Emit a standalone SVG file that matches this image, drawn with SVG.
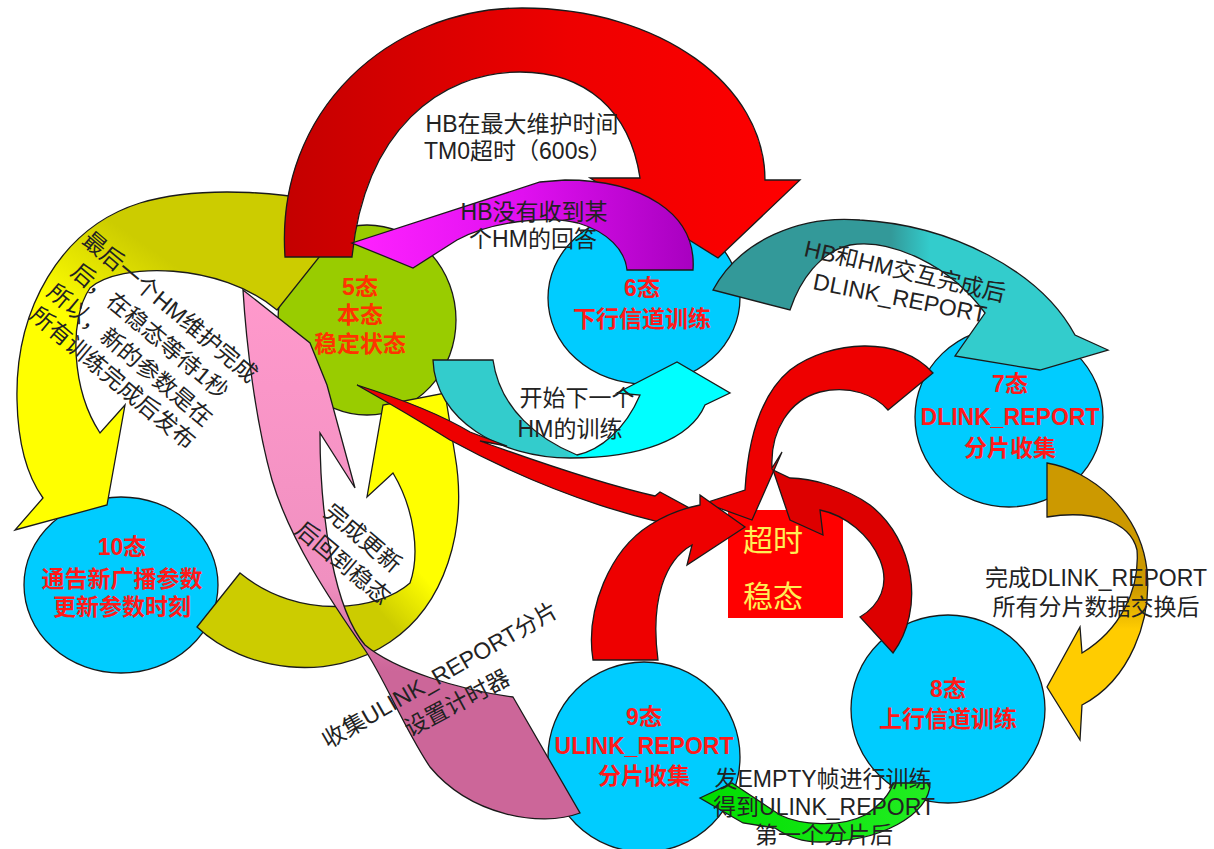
<svg xmlns="http://www.w3.org/2000/svg" width="1214" height="849" viewBox="0 0 1214 849">
  <defs>
    <linearGradient id="gRed" x1="0" y1="0" x2="1" y2="0">
      <stop offset="0" stop-color="#c40000"/>
      <stop offset="0.55" stop-color="#ee0000"/>
      <stop offset="1" stop-color="#ff0000"/>
    </linearGradient>
    <linearGradient id="gMag" x1="0" y1="0" x2="1" y2="0">
      <stop offset="0" stop-color="#ff22ff"/>
      <stop offset="0.5" stop-color="#e010f0"/>
      <stop offset="1" stop-color="#a800c0"/>
    </linearGradient>
    <linearGradient id="gOliveTop" x1="0.8" y1="0" x2="0.1" y2="1">
      <stop offset="0.3" stop-color="#cccc00"/>
      <stop offset="0.55" stop-color="#ffff00"/>
      <stop offset="1" stop-color="#ffff00"/>
    </linearGradient>
    <linearGradient id="gPink" x1="0" y1="0" x2="0" y2="1">
      <stop offset="0" stop-color="#ff99cc"/>
      <stop offset="0.55" stop-color="#f090c0"/>
      <stop offset="0.72" stop-color="#cc6699"/>
      <stop offset="1" stop-color="#cc6699"/>
    </linearGradient>
    <linearGradient id="gYelBot" x1="0" y1="1" x2="1" y2="0">
      <stop offset="0.45" stop-color="#cccc00"/>
      <stop offset="0.6" stop-color="#ffff00"/>
      <stop offset="1" stop-color="#ffff00"/>
    </linearGradient>
    <linearGradient id="gCyan" x1="0" y1="0" x2="1" y2="0">
      <stop offset="0.45" stop-color="#33cccc"/>
      <stop offset="0.5" stop-color="#00ffff"/>
      <stop offset="1" stop-color="#00ffff"/>
    </linearGradient>
    <linearGradient id="gTeal" x1="0" y1="0" x2="1" y2="0">
      <stop offset="0.45" stop-color="#339999"/>
      <stop offset="0.55" stop-color="#33cccc"/>
      <stop offset="1" stop-color="#33cccc"/>
    </linearGradient>
    <linearGradient id="gGold" x1="0" y1="0" x2="0" y2="1">
      <stop offset="0.45" stop-color="#cc9900"/>
      <stop offset="0.6" stop-color="#ffcc00"/>
      <stop offset="1" stop-color="#ffcc00"/>
    </linearGradient>
    <linearGradient id="gGreen" x1="0" y1="0" x2="1" y2="0">
      <stop offset="0" stop-color="#00dd00"/>
      <stop offset="1" stop-color="#22ee22"/>
    </linearGradient>
  </defs>
  <style>
    .node { fill: #00ccff; stroke: #1a1a1a; stroke-width: 1.3; }
    .arrow { stroke: #1a1a1a; stroke-width: 1.3; stroke-linejoin: miter; }
    .lbl { font-family: 'Liberation Sans', 'Noto Sans CJK SC', sans-serif; font-size: 23px; font-weight: bold; fill: #ff1a1a; text-anchor: middle; }
    .note { font-family: 'Liberation Sans', 'Noto Sans CJK SC', sans-serif; font-size: 23px; fill: #222222; text-anchor: middle; }
    .box { font-family: 'Liberation Sans', 'Noto Sans CJK SC', sans-serif; font-size: 30px; fill: #ffee55; text-anchor: middle; }
  </style>

  <rect width="1214" height="849" fill="#ffffff"/>

  <!-- state circles -->
  <g id="state5"><ellipse cx="367" cy="320" rx="89" ry="95" fill="#99cc00" stroke="#1a1a1a" stroke-width="1.3"/></g>
  <g id="state6"><ellipse class="node" cx="644" cy="298" rx="96" ry="86"/></g>
  <g id="state7"><ellipse class="node" cx="1009" cy="417" rx="94" ry="90"/></g>
  <g id="state8"><ellipse class="node" cx="948" cy="709" rx="97" ry="94"/></g>
  <g id="state9"><ellipse class="node" cx="644" cy="757" rx="96" ry="95"/></g>
  <g id="state10"><ellipse class="node" cx="121" cy="585" rx="97" ry="88"/></g>

  <!-- timeout box -->
  <g id="timeout"><rect x="728" y="510" width="115" height="108" fill="#ff0000"/></g>

  <g id="connectors">
    <!-- 5 -> 10 -->
    <path class="arrow" fill="url(#gOliveTop)" d="M 355 212 C 300 190, 200 185, 140 203 C 60 228, 15 310, 17 400 C 18 450, 30 480, 43 498 L 15 530 L 107 505 L 125 405 L 100 433 C 72 390, 68 320, 90 288 C 120 262, 220 262, 277 310 Z"/>
    <!-- 5 -> 6 timeout -->
    <path class="arrow" fill="url(#gRed)" d="M 285 257 C 275 110, 390 8, 522 8 C 660 8, 765 85, 765 180 L 800 180 L 718 258 L 590 178 L 640 178 C 630 110, 585 72, 520 72 C 440 72, 365 130, 352 257 Z"/>
    <!-- 6 -> 5 -->
    <path class="arrow" fill="url(#gMag)" d="M 693 270 C 697 212, 640 180, 565 180 L 540 182 L 352 243 L 413 268 L 457 240 C 490 222, 545 215, 578 223 C 608 232, 625 250, 627 270 Z"/>
    <!-- 10 -> 5 -->
    <path class="arrow" fill="url(#gYelBot)" d="M 197 627 C 245 672, 330 683, 390 642 C 445 605, 468 530, 455 455 L 445 393 L 383 405 L 367 497 L 393 473 C 415 510, 420 555, 410 583 C 380 610, 300 622, 240 573 Z"/>
    <!-- 9 -> 5 -->
    <path class="arrow" fill="url(#gPink)" d="M 243 290 L 310 343 L 327 385 L 355 488 L 320 433 C 320 520, 335 610, 365 645 C 395 670, 460 690, 513 697 L 580 813 C 540 828, 470 815, 430 767 C 405 730, 385 680, 365 650 C 330 600, 290 540, 272 480 C 255 420, 246 340, 243 290 Z"/>
    <!-- 5 -> 6 -->
    <path class="arrow" fill="url(#gCyan)" d="M 433 360 C 435 420, 500 458, 570 458 C 640 458, 690 440, 705 405 L 730 393 L 677 362 L 617 393 L 640 395 C 625 430, 600 450, 577 455 C 540 440, 500 410, 493 360 Z"/>
    <!-- 6 -> 7 -->
    <path class="arrow" fill="url(#gTeal)" d="M 713 290 C 740 240, 800 215, 860 220 C 950 225, 1040 270, 1075 335 L 1108 350 L 1040 370 L 955 356 L 985 313 C 950 265, 890 238, 850 245 C 820 252, 800 280, 790 310 Z"/>
    <!-- 7 -> 8 -->
    <path class="arrow" fill="url(#gGold)" d="M 1047 463 C 1090 470, 1140 510, 1147 570 C 1152 620, 1130 680, 1082 705 L 1080 740 L 1047 687 L 1080 627 L 1082 653 C 1120 630, 1140 590, 1137 550 C 1130 520, 1090 510, 1047 517 Z"/>
    <!-- 8 -> 9 -->
    <path class="arrow" fill="url(#gGreen)" d="M 930 783 C 930 815, 880 842, 820 842 C 800 842, 785 835, 775 828 L 743 823 L 700 798 L 732 783 L 780 815 C 800 825, 840 828, 865 815 C 880 805, 890 795, 893 783 Z"/>
    <!-- timeout arrows into the box -->
    <path class="arrow" fill="#ee0000" d="M 357 385 C 420 405, 450 420, 470 432 L 507 446 L 480 441 C 560 470, 620 488, 655 496 L 660 492 L 730 530 L 718 535 C 650 522, 560 500, 450 440 C 410 415, 380 398, 357 385 Z"/>
    <path class="arrow" fill="#ee0000" d="M 933 373 C 900 335, 830 340, 790 370 C 760 395, 748 440, 745 490 L 705 503 L 752 520 L 782 452 L 772 468 C 770 430, 790 400, 820 392 C 850 385, 875 395, 888 410 Z"/>
    <path class="arrow" fill="#dd0000" d="M 893 653 C 925 610, 915 540, 870 505 C 845 487, 810 478, 790 478 L 773 470 L 790 520 L 823 535 L 820 510 C 845 515, 870 535, 880 560 C 890 585, 880 605, 860 617 Z"/>
    <path class="arrow" fill="#ee0000" d="M 593 660 C 585 610, 610 550, 650 525 C 670 512, 690 507, 700 505 L 700 495 L 745 527 L 687 565 L 692 545 C 665 560, 650 600, 658 660 Z"/>
  </g>

  <!-- box caption -->
  <text class="box" x="773" y="551">超时</text>
  <text class="box" x="773" y="607">稳态</text>

  <!-- state labels -->
  <g id="state5-label">
    <text class="lbl" style="fill:#ff3300" x="360" y="295">5态</text>
    <text class="lbl" style="fill:#ff3300" x="360" y="323">本态</text>
    <text class="lbl" style="fill:#ff3300" x="360" y="352">稳定状态</text>
  </g>
  <g id="state6-label">
    <text class="lbl" x="642" y="296">6态</text>
    <text class="lbl" x="642" y="327">下行信道训练</text>
  </g>
  <g id="state7-label">
    <text class="lbl" x="1010" y="392">7态</text>
    <text class="lbl" x="1010" y="425">DLINK_REPORT</text>
    <text class="lbl" x="1010" y="456">分片收集</text>
  </g>
  <g id="state8-label">
    <text class="lbl" x="948" y="697">8态</text>
    <text class="lbl" x="948" y="727">上行信道训练</text>
  </g>
  <g id="state9-label">
    <text class="lbl" x="644" y="725">9态</text>
    <text class="lbl" x="644" y="754">ULINK_REPORT</text>
    <text class="lbl" x="644" y="784">分片收集</text>
  </g>
  <g id="state10-label">
    <text class="lbl" x="122" y="555">10态</text>
    <text class="lbl" x="122" y="587">通告新广播参数</text>
    <text class="lbl" x="122" y="615">更新参数时刻</text>
  </g>

  <!-- transition notes -->
  <g id="notes">
    <text class="note" x="522" y="132">HB在最大维护时间</text>
    <text class="note" x="518" y="159">TM0超时（600s）</text>
    <text class="note" x="534" y="220">HB没有收到某</text>
    <text class="note" x="533" y="247">个HM的回答</text>
    <text class="note" x="577" y="406">开始下一个</text>
    <text class="note" x="570" y="437">HM的训练</text>
    <text class="note" transform="translate(905,271) rotate(13)" y="8">HB和HM交互完成后</text>
    <text class="note" transform="translate(900,298) rotate(11)" y="8">DLINK_REPORT</text>
    <text class="note" x="1096" y="586">完成DLINK_REPORT</text>
    <text class="note" x="1096" y="615">所有分片数据交换后</text>
    <text class="note" x="823" y="787">发EMPTY帧进行训练</text>
    <text class="note" x="824" y="815">得到ULINK_REPORT</text>
    <text class="note" x="824" y="843">第一个分片后</text>
    <text class="note" transform="translate(170,307) rotate(40)" y="8">最后一个HM维护完成</text>
    <text class="note" transform="translate(150,331) rotate(40)" y="8">后，在稳态等待1秒</text>
    <text class="note" transform="translate(130,355) rotate(40)" y="8">所以，新的参数是在</text>
    <text class="note" transform="translate(113,378) rotate(40)" y="8">所有训练完成后发布</text>
    <text class="note" transform="translate(363,538) rotate(40)" y="8">完成更新</text>
    <text class="note" transform="translate(343,563) rotate(40)" y="8">后回到稳态</text>
    <text class="note" transform="translate(440,675) rotate(-30)" y="8">收集ULINK_REPORT分片</text>
    <text class="note" transform="translate(457,703) rotate(-28)" y="8">设置计时器</text>
  </g>
</svg>
